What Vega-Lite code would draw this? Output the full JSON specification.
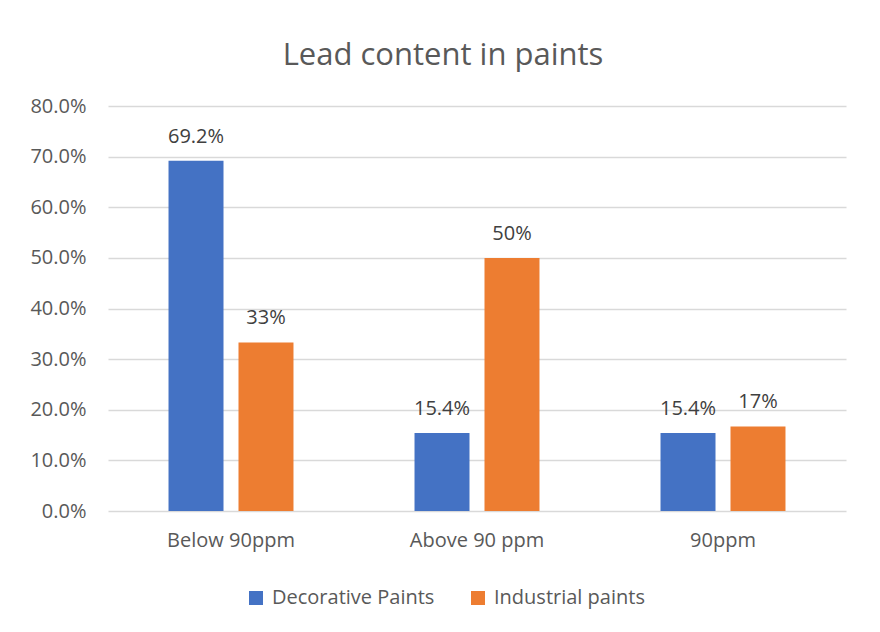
{
  "$schema": "https://vega.github.io/schema/vega-lite/v6.json",
  "width": 738,
  "height": 405,
  "autosize": {"type": "none"},
  "padding": {"left": 108, "top": 106, "right": 34, "bottom": 121},
  "background": "white",
  "title": {
    "text": "Lead content in paints",
    "fontSize": 31,
    "font": "Open Sans",
    "fontWeight": "normal",
    "color": "#595959",
    "anchor": "middle",
    "offset": 24,
    "dx": -34
  },
  "data": {
    "values": [
      {"category": "Below 90ppm", "series": "Decorative Paints", "value": 0.692, "label": "69.2%"},
      {"category": "Below 90ppm", "series": "Industrial paints", "value": 0.333, "label": "33%"},
      {"category": "Above 90 ppm", "series": "Decorative Paints", "value": 0.154, "label": "15.4%"},
      {"category": "Above 90 ppm", "series": "Industrial paints", "value": 0.5, "label": "50%"},
      {"category": "90ppm", "series": "Decorative Paints", "value": 0.154, "label": "15.4%"},
      {"category": "90ppm", "series": "Industrial paints", "value": 0.167, "label": "17%"}
    ]
  },
  "encoding": {
    "x": {
      "field": "category",
      "type": "nominal",
      "sort": ["Below 90ppm", "Above 90 ppm", "90ppm"],
      "scale": {"paddingInner": 0.492, "paddingOuter": 0.246},
      "axis": {
        "title": null,
        "labelAngle": 0,
        "ticks": false,
        "domain": false,
        "labelPadding": 19,
        "labelFontSize": 20,
        "labelFont": "Open Sans",
        "labelColor": "#595959"
      }
    },
    "xOffset": {
      "field": "series",
      "type": "nominal",
      "scale": {"paddingInner": 0.2143, "paddingOuter": 0}
    },
    "y": {
      "field": "value",
      "type": "quantitative",
      "scale": {"domain": [0, 0.8]},
      "axis": {
        "title": null,
        "format": ".1%",
        "values": [0, 0.1, 0.2, 0.3, 0.4, 0.5, 0.6, 0.7, 0.8],
        "labelOverlap": false,
        "ticks": false,
        "domain": false,
        "labelPadding": 22,
        "labelFontSize": 20,
        "labelFont": "Open Sans",
        "labelColor": "#595959",
        "gridColor": "#D9D9D9",
        "gridWidth": 1.3
      }
    }
  },
  "layer": [
    {
      "mark": {"type": "bar"},
      "encoding": {
        "color": {
          "field": "series",
          "type": "nominal",
          "scale": {"domain": ["Decorative Paints", "Industrial paints"], "range": ["#4472C4", "#ED7D31"]},
          "legend": {
            "title": null,
            "orient": "none",
            "direction": "horizontal",
            "legendX": 138,
            "legendY": 482,
            "symbolType": "square",
            "symbolSize": 196,
            "symbolStrokeWidth": 0,
            "labelFontSize": 20,
            "labelFont": "Open Sans",
            "labelColor": "#595959",
            "labelLimit": 400,
            "columnPadding": 33,
            "labelOffset": 6
          }
        }
      }
    },
    {
      "mark": {"type": "text", "baseline": "alphabetic", "dy": -18, "fontSize": 20, "font": "Open Sans", "color": "#404040"},
      "encoding": {
        "text": {"field": "label"}
      }
    }
  ],
  "config": {
    "view": {"stroke": null},
    "axisX": {"grid": false},
    "axisY": {"grid": true}
  }
}
